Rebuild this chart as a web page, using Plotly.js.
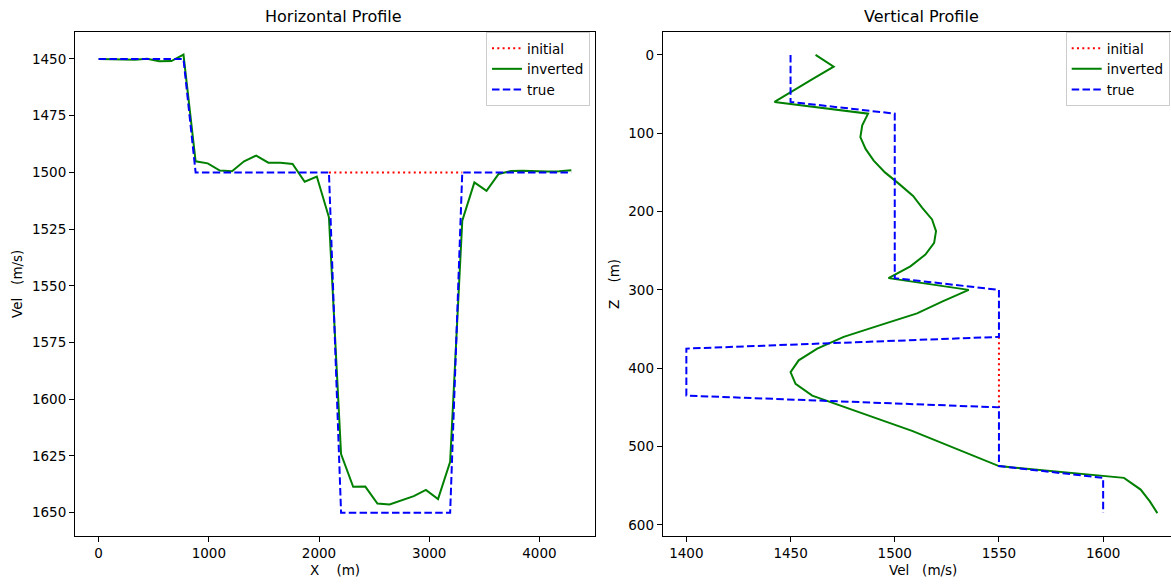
<!DOCTYPE html>
<html>
<head>
<meta charset="utf-8">
<script src="https://cdn.plot.ly/plotly-3.0.1.min.js"></script>
<style>
html,body{margin:0;padding:0;background:#fff;}
#chart{width:1171px;height:584px;}
</style>
</head>
<body>
<div id="chart"></div>
<script>
// ---------- Horizontal profile data ----------
const xPos = [0,110,220,330,440,550,660,770,880,990,1100,1210,1320,1430,1540,1650,1760,1870,1980,2090,
              2200,2310,2420,2530,2640,2750,2860,2970,3080,3190,3300,3410,3520,3630,3740,3850,3960,4070,4180,4290];
// initial model: only the part that is visible (elsewhere hidden under the true model)
const initH = [null,null,null,null,null,null,null,null,null,null,null,null,null,null,null,null,null,null,null,1500,
               1500,1500,1500,1500,1500,1500,1500,1500,1500,1500,1500,null,null,null,null,null,null,null,null,null];
const invH  = [1450.0,1450.2,1450.4,1450.3,1449.9,1451.0,1450.9,1448.1,1495.1,1496.0,1499.2,1499.5,1495.1,1492.6,1495.7,1495.7,1496.3,1504.1,1501.8,1519.8,
               1624.2,1638.6,1638.5,1646.0,1646.4,1644.5,1642.7,1640.0,1644.0,1627.6,1521.3,1504.4,1508.1,1500.7,1499.4,1499.3,1499.5,1499.6,1499.5,1499.1];
const trueH = [1450,1450,1450,1450,1450,1450,1450,1450,1500,1500,1500,1500,1500,1500,1500,1500,1500,1500,1500,1500,
               1650,1650,1650,1650,1650,1650,1650,1650,1650,1650,1500,1500,1500,1500,1500,1500,1500,1500,1500,1500];

// ---------- Vertical profile data ----------
const zPos = [0,15,30,45,60,75,90,105,120,135,150,165,180,195,210,225,240,255,270,285,
              300,315,330,345,360,375,390,405,420,435,450,465,480,495,510,525,540,555,570,585];
const initV = [null,null,null,null,null,null,null,null,null,null,null,null,null,null,null,null,null,null,null,null,
               null,null,null,null,1550,1550,1550,1550,1550,1550,1550,null,null,null,null,null,null,null,null,null];
const invV  = [1462.0,1470.7,1461.1,1451.7,1442.3,1487.2,1484.4,1483.5,1486.0,1489.9,1495.3,1502.2,1508.8,1513.1,1517.9,1519.8,1518.9,1514.7,1507.5,1497.0,
               1535.5,1522.7,1510.7,1493.0,1475.5,1462.8,1453.9,1450.0,1452.4,1460.4,1476.0,1492.3,1508.3,1522.0,1535.6,1550.0,1610.0,1618.0,1622.4,1626.0];
const trueV = [1450,1450,1450,1450,1450,1500,1500,1500,1500,1500,1500,1500,1500,1500,1500,1500,1500,1500,1500,1500,
               1550,1550,1550,1550,1550,1400,1400,1400,1400,1400,1550,1550,1550,1550,1550,1550,1600,1600,1600,1600];

const seriesNames = ['initial','inverted','true'];
const titles = ['Horizontal Profile','Vertical Profile'];

const W = 1171, H = 584;
const FONT = 'DejaVu Sans, sans-serif';
const styles = [
  {color:'#ff0000', width:2, dash:'2px,3.3px'},
  {color:'#008000', width:2, dash:'solid'},
  {color:'#0000ff', width:2, dash:'7.5px,3.3px'}
];

const traces = [];
[initH, invH, trueH].forEach((v,k)=>{
  traces.push({x:xPos, y:v, type:'scatter', mode:'lines', name:seriesNames[k],
    line:styles[k], xaxis:'x', yaxis:'y', legend:'legend', connectgaps:false});
});
[initV, invV, trueV].forEach((v,k)=>{
  traces.push({x:v, y:zPos, type:'scatter', mode:'lines', name:seriesNames[k],
    line:styles[k], xaxis:'x2', yaxis:'y2', legend:'legend2', connectgaps:false});
});

const axisCommon = {
  showgrid:false, zeroline:false, showline:true, linecolor:'#000', linewidth:1,
  ticks:'outside', ticklen:5, tickwidth:1, tickcolor:'#000',
  tickfont:{family:FONT, size:13.5, color:'#000'}
};

const yTop = 1 - 32/H, yBot = 1 - 536/H;

const legendCommon = {
  y:1-32/H, yanchor:'top',
  bgcolor:'rgba(255,255,255,0.8)', bordercolor:'#cccccc', borderwidth:1,
  font:{family:FONT, size:13.5, color:'#000'}, tracegroupgap:0, itemwidth:30
};

const layout = {
  width:W, height:H,
  margin:{l:0,r:0,t:0,b:0, autoexpand:false},
  paper_bgcolor:'#fff', plot_bgcolor:'#fff',
  showlegend:true,
  xaxis: Object.assign({}, axisCommon, {domain:[75/W, 595/W], range:[-214.5, 4504.5],
    tickvals:[0,1000,2000,3000,4000], mirror:true, anchor:'y'}),
  yaxis: Object.assign({}, axisCommon, {domain:[yBot, yTop], range:[1660.3, 1438.1],
    tickvals:[1450,1475,1500,1525,1550,1575,1600,1625,1650], mirror:true, anchor:'x'}),
  xaxis2: Object.assign({}, axisCommon, {domain:[662.7/W, 1], range:[1388.65, 1388.65 + (1171-662.7)/2.084],
    tickvals:[1400,1450,1500,1550,1600], mirror:true, anchor:'y2'}),
  yaxis2: Object.assign({}, axisCommon, {domain:[yBot, yTop], range:[614.25, -29.25],
    tickvals:[0,100,200,300,400,500,600], mirror:false, anchor:'x2'}),
  legend: Object.assign({}, legendCommon, {x:590/W, xanchor:'right'}),
  legend2: Object.assign({}, legendCommon, {x:1065.7/W, xanchor:'left'}),
  annotations: [
    {text:titles[0], xref:'paper', yref:'paper', x:333/W, y:1-17/H, xanchor:'center', yanchor:'middle',
     showarrow:false, font:{family:FONT, size:16, color:'#000'}},
    {text:titles[1], xref:'paper', yref:'paper', x:921.5/W, y:1-17/H, xanchor:'center', yanchor:'middle',
     showarrow:false, font:{family:FONT, size:16, color:'#000'}},
    {text:'X\u00a0\u00a0\u00a0\u00a0(m)', xref:'paper', yref:'paper', x:335/W, y:1-570/H, xanchor:'center', yanchor:'middle',
     showarrow:false, font:{family:FONT, size:13.5, color:'#000'}},
    {text:'Vel\u00a0\u00a0\u00a0(m/s)', xref:'paper', yref:'paper', x:922.7/W, y:1-570/H, xanchor:'center', yanchor:'middle',
     showarrow:false, font:{family:FONT, size:13.5, color:'#000'}},
    {text:'Vel\u00a0\u00a0\u00a0(m/s)', xref:'paper', yref:'paper', x:17/W, y:1-284/H, xanchor:'center', yanchor:'middle',
     textangle:-90, showarrow:false, font:{family:FONT, size:13.5, color:'#000'}},
    {text:'Z\u00a0\u00a0\u00a0\u00a0(m)', xref:'paper', yref:'paper', x:614/W, y:1-284/H, xanchor:'center', yanchor:'middle',
     textangle:-90, showarrow:false, font:{family:FONT, size:13.5, color:'#000'}}
  ]
};

Plotly.newPlot('chart', traces, layout, {displayModeBar:false, staticPlot:true});
</script>
</body>
</html>
